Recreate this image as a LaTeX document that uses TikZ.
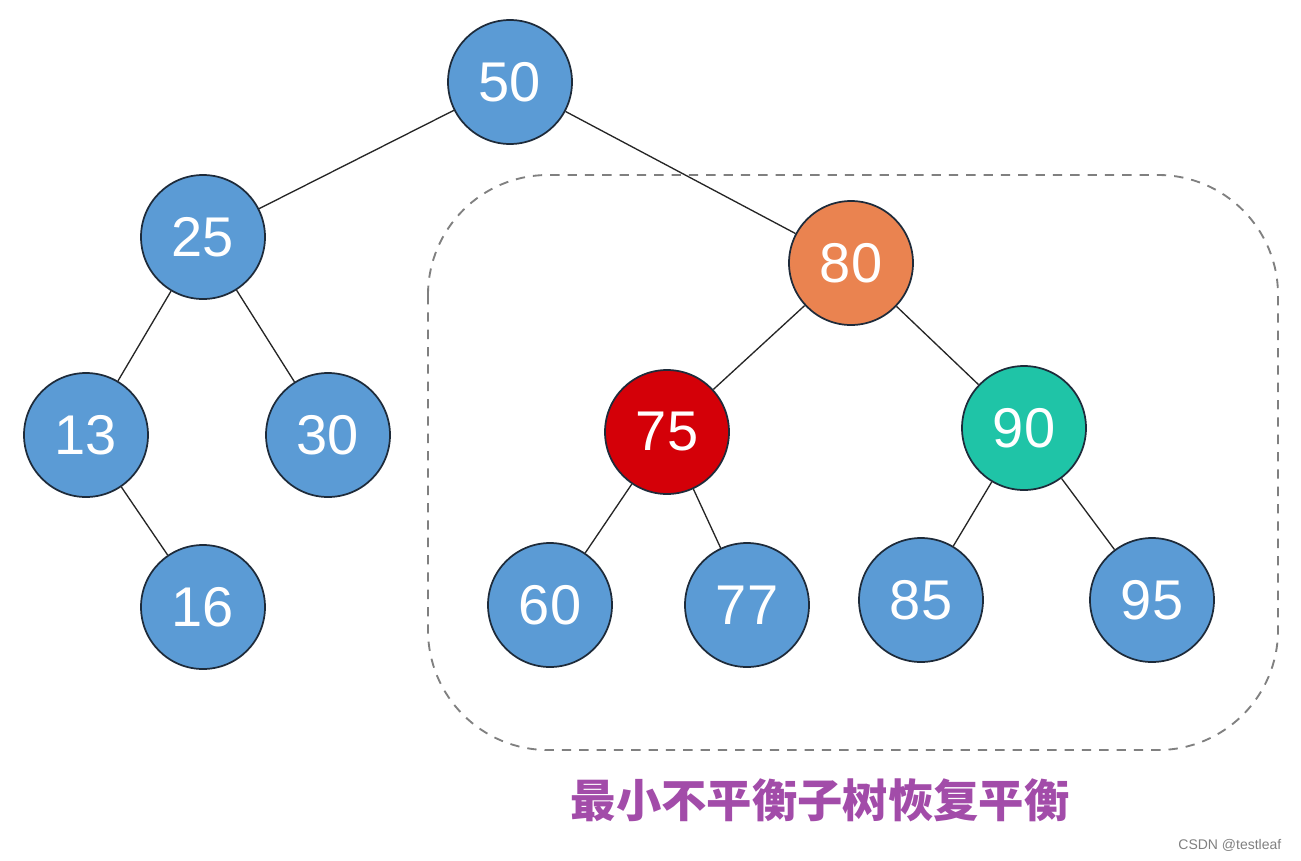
\documentclass[tikz,border=0pt]{standalone}
\usepackage{fontspec}
\setmainfont{Liberation Sans}
\newfontfamily\cjkfont{Noto Sans CJK SC}
\usepackage{tikz}
\definecolor{treeblue}{HTML}{5B9BD5}
\definecolor{treeorange}{HTML}{EA8350}
\definecolor{treered}{HTML}{D40008}
\definecolor{treeteal}{HTML}{1FC4A7}
\definecolor{treeplum}{HTML}{A24CA9}
\definecolor{treeline}{HTML}{1E2B3A}

\begin{document}
\begin{tikzpicture}[x=0.75pt,y=-0.75pt,
  tnode/.style={circle,draw=treeline,line width=1.3pt,fill=treeblue,minimum size=93pt,inner sep=0pt,
    text=white,font=\fontsize{42}{42}\selectfont},
  tedge/.style={line width=1pt,black!85}]
  \useasboundingbox (0,0) rectangle (1301,860);
  % nodes (value/x/y/fill)
  \foreach \v/\x/\y/\c in {50/510/82/treeblue,25/203/237/treeblue,13/86/435/treeblue,30/328/435/treeblue,
                           16/203/607/treeblue,80/851/263/treeorange,75/667/432/treered,90/1024/428/treeteal,
                           60/550/605/treeblue,77/747/605/treeblue,85/921/600/treeblue,95/1152/600/treeblue}
    \node[tnode,fill=\c] (n\v) at (\x,\y) {\v};
  % edges
  \foreach \a/\b in {50/25,50/80,25/13,25/30,13/16,80/75,80/90,75/60,75/77,90/85,90/95}
    \draw[tedge] (n\a) -- (n\b);
  % dashed box round the subtree
  \draw[gray,line width=1.4pt,dash pattern=on 7pt off 6pt,rounded corners=90pt] (428,175) rectangle (1278,750);
  % caption
  \node[treeplum,font=\cjkfont\bfseries\fontsize{34}{34}\selectfont] (cap) at (820,800) {最小不平衡子树恢复平衡};
  \node[gray,font=\fontsize{10.5}{10.5}\selectfont,anchor=east] (mark) at (1286,845) {CSDN @testleaf};
\end{tikzpicture}
\end{document}
